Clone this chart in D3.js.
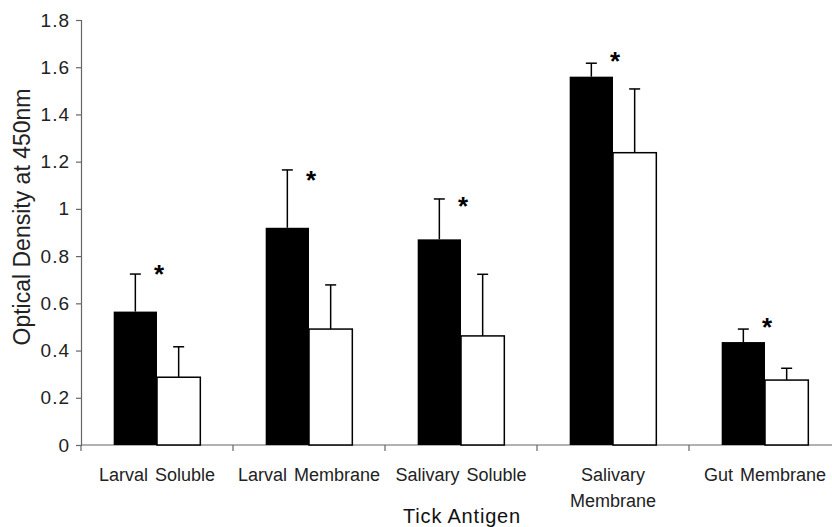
<!DOCTYPE html>
<html>
<head>
<meta charset="utf-8">
<script src="https://cdn.jsdelivr.net/npm/d3@7"></script>
<style>
  body { margin: 0; background: #fff; }
  svg { display: block; font-family: "Liberation Sans", Arial, sans-serif; }
</style>
</head>
<body>
<div id="chart"></div>
<script>
// data
var categories = ["Larval Soluble", "Larval Membrane", "Salivary Soluble", "Salivary Membrane", "Gut Membrane"];
var blackValues = [0.565, 0.92, 0.871, 1.56, 0.436];
var blackErrors = [0.159, 0.245, 0.171, 0.057, 0.055];
var whiteValues = [0.287, 0.491, 0.462, 1.238, 0.275];
var whiteErrors = [0.129, 0.187, 0.261, 0.27, 0.05];
var starValues = [0.75, 1.148, 1.038, 1.652, 0.526];
var yTicks = [0, 0.2, 0.4, 0.6, 0.8, 1, 1.2, 1.4, 1.6, 1.8];
var yTickLabels = ["0", "0.2", "0.4", "0.6", "0.8", "1", "1.2", "1.4", "1.6", "1.8"];

var width = 832, height = 527;
var margin = { top: 20, left: 81, bottom: 82 };
var chart_height = height - margin.top - margin.bottom;

var svg = d3.select('#chart')
    .append('svg')
    .attr('width', width)
    .attr('height', height);

var x0 = d3.scaleBand()
    .domain(categories)
    .range([margin.left, margin.left + 760])
    .paddingInner(0.43)
    .paddingOuter(0.215);

var x1 = d3.scaleBand()
    .domain(["black", "white"])
    .range([0, x0.bandwidth()]);

var y = d3.scaleLinear()
    .domain([0, 1.8])
    .range([margin.top + chart_height, margin.top]);

var axisColor = "#666";

// y axis
var yAxis = svg.append('g')
    .attr('transform', 'translate(' + margin.left + ',0)')
    .call(d3.axisLeft(y)
        .tickValues(yTicks)
        .tickFormat(function (d, i) { return yTickLabels[i]; })
        .tickSize(5)
        .tickPadding(6));
yAxis.select('.domain').attr('stroke', axisColor).attr('stroke-width', 1.2);
yAxis.selectAll('.tick line').attr('stroke', axisColor).attr('stroke-width', 1.2);
yAxis.selectAll('.tick text')
    .attr('fill', '#222')
    .style('font-size', '19px')
    .style('letter-spacing', '1px')
    .style('font-family', '"Liberation Sans", Arial, sans-serif');

// x axis line and group boundary ticks
var y0 = y(0);
svg.append('line')
    .attr('x1', margin.left).attr('x2', width)
    .attr('y1', y0).attr('y2', y0)
    .attr('stroke', axisColor).attr('stroke-width', 1.2);

var offset = x0.paddingOuter() * x0.step();
svg.selectAll('.xtick')
    .data(categories)
    .enter()
    .append('line')
    .attr('class', 'xtick')
    .attr('x1', function (d) { return x0(d) - offset; })
    .attr('x2', function (d) { return x0(d) - offset; })
    .attr('y1', y0).attr('y2', y0 + 6)
    .attr('stroke', axisColor).attr('stroke-width', 1.2);

// category labels (wrap "Salivary Membrane")
svg.selectAll('.xlabel')
    .data(categories)
    .enter()
    .append('text')
    .attr('class', 'xlabel')
    .attr('text-anchor', 'middle')
    .attr('fill', '#222')
    .style('font-size', '18px')
    .style('word-spacing', '2px')
    .each(function (d) {
        var t = d3.select(this);
        var cx = x0(d) + x0.bandwidth() / 2;
        var lines = d === "Salivary Membrane" ? ["Salivary", "Membrane"] : [d];
        lines.forEach(function (s, i) {
            t.append('tspan')
                .attr('x', cx)
                .attr('y', y0 + 36 + i * 26)
                .text(s);
        });
    });

// bars
var groups = svg.selectAll('.grp')
    .data(categories)
    .enter()
    .append('g')
    .attr('class', 'grp')
    .attr('transform', function (d) { return 'translate(' + x0(d) + ',0)'; });

groups.append('rect')
    .attr('x', x1("black"))
    .attr('y', function (d, i) { return y(blackValues[i]); })
    .attr('width', x1.bandwidth())
    .attr('height', function (d, i) { return y0 - y(blackValues[i]); })
    .attr('fill', '#000');

groups.append('rect')
    .attr('x', x1("white"))
    .attr('y', function (d, i) { return y(whiteValues[i]); })
    .attr('width', x1.bandwidth())
    .attr('height', function (d, i) { return y0 - y(whiteValues[i]); })
    .attr('fill', '#fff')
    .attr('stroke', '#000')
    .attr('stroke-width', 1.5);

// error bars (upper only)
function errorBar(key, vals, errs) {
    var cx = x1(key) + x1.bandwidth() / 2;
    groups.append('line')
        .attr('x1', cx).attr('x2', cx)
        .attr('y1', function (d, i) { return y(vals[i]); })
        .attr('y2', function (d, i) { return y(vals[i] + errs[i]); })
        .attr('stroke', '#000').attr('stroke-width', 1.5);
    groups.append('line')
        .attr('x1', cx - 5.5).attr('x2', cx + 5.5)
        .attr('y1', function (d, i) { return y(vals[i] + errs[i]); })
        .attr('y2', function (d, i) { return y(vals[i] + errs[i]); })
        .attr('stroke', '#000').attr('stroke-width', 1.5);
}
errorBar("black", blackValues, blackErrors);
errorBar("white", whiteValues, whiteErrors);

// significance stars
groups.append('text')
    .attr('x', x1("white") + 2)
    .attr('y', function (d, i) { return y(starValues[i]) + 15; })
    .attr('text-anchor', 'middle')
    .style('font-size', '26px')
    .style('font-weight', 'bold')
    .attr('fill', '#000')
    .text('*');

// axis titles
svg.append('text')
    .attr('transform', 'translate(30,' + 217 + ') rotate(-90)')
    .attr('text-anchor', 'middle')
    .attr('fill', '#222')
    .style('font-size', '23px')
    .text('Optical Density at 450nm');

svg.append('text')
    .attr('x', 462)
    .attr('y', 523)
    .attr('text-anchor', 'middle')
    .attr('fill', '#111')
    .style('font-size', '20px')
    .style('letter-spacing', '0.8px')
    .text('Tick Antigen');
</script>
</body>
</html>
